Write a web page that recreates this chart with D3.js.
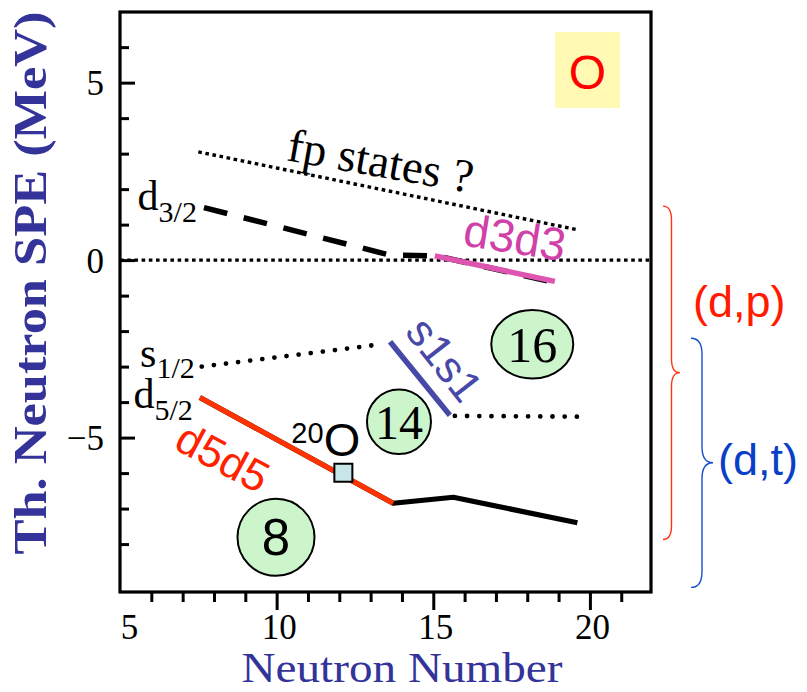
<!DOCTYPE html>
<html>
<head>
<meta charset="utf-8">
<script src="https://cdn.jsdelivr.net/npm/d3@7/dist/d3.min.js"></script>
<style>
  body { margin: 0; background: #fff; }
  svg { display: block; }
</style>
</head>
<body>
<svg id="chart" width="807" height="692"></svg>
<script>
// ---- axis setup ----
const xDomain = [5, 21.95];
const yDomain = [-9.35, 6.99];
const xMinorTicks = [6, 7, 8, 9, 11, 12, 13, 14, 16, 17, 18, 19, 21];
const xMajorTicks = [10, 15, 20];
const xTickLabels = [5, 10, 15, 20];
const yMinorTicks = [-8, -7, -6, -4, -3, -2, -1, 1, 2, 3, 4, 6];
const yMajorTicks = [-5, 0, 5];
const yTickLabels = [-5, 0, 5];

// ---- single-particle levels (neutron number, energy in MeV) ----
const fpN = [7.5, 19.63];
const fpE = [3.05, 0.85];

const d32N = [7.68, 13.62, 15.1, 19.14];
const d32E = [1.48, 0.14, 0.12, -0.68];

const d3d3N = [15.05, 18.88];
const d3d3E = [0.12, -0.6];

const s12N = [7.61, 13.35];
const s12E = [-3.0, -2.37];

const s1s1N = [13.62, 15.53];
const s1s1E = [-2.3, -4.37];

const s12TailN = [15.69, 19.6];
const s12TailE = [-4.39, -4.41];

const d52N = [7.55, 13.72, 15.64, 19.6];
const d52E = [-3.87, -6.85, -6.68, -7.40];

const d5d5N = [7.55, 13.72];
const d5d5E = [-3.87, -6.85];

// 20O point
const o20N = [12.13];
const o20E = [-5.99];

// shell gaps
const magicLabels = ["8", "14", "16"];
const magicN = [9.98, 13.905, 18.16];
const magicE = [-7.81, -4.555, -2.37];

// reaction ranges: top, middle, bottom (MeV)
const dpRange = [1.52, -3.17, -7.87];
const dtRange = [-2.2, -5.71, -9.22];

// ---- drawing ----
const svg = d3.select("#chart");
const plotLeft = 120, plotRight = 651, plotTop = 12, plotBottom = 592;

const x = d3.scaleLinear().domain(xDomain).range([plotLeft, plotRight]);
const y = d3.scaleLinear().domain(yDomain).range([plotBottom, plotTop]);

const serif = "'Liberation Serif', 'Times New Roman', serif";
const sans = "'Liberation Sans', Arial, sans-serif";
const axisBlue = "#333399";

const pts = (ns, es) => ns.map((n, i) => [n, es[i]]);
const line = d3.line().x(d => x(d[0])).y(d => y(d[1]));

// y-axis ticks (pointing into the frame)
function styleAxis(g) {
  g.select(".domain").remove();
  g.selectAll(".tick line").attr("stroke", "#000").attr("stroke-width", 3);
  g.selectAll(".tick text").remove();
}
svg.append("g").attr("transform", `translate(${plotLeft},0)`)
  .call(d3.axisRight(y).tickValues(yMinorTicks).tickSize(9)).call(styleAxis);
svg.append("g").attr("transform", `translate(${plotLeft},0)`)
  .call(d3.axisRight(y).tickValues(yMajorTicks).tickSize(15)).call(styleAxis);

// x-axis ticks (pointing outward)
svg.append("g").attr("transform", `translate(0,${plotBottom})`)
  .call(d3.axisBottom(x).tickValues(xMinorTicks).tickSize(10)).call(styleAxis);
svg.append("g").attr("transform", `translate(0,${plotBottom})`)
  .call(d3.axisBottom(x).tickValues(xMajorTicks).tickSize(18)).call(styleAxis);

// tick labels
const yLab = svg.append("g").attr("transform", `translate(${plotLeft},0)`)
  .call(d3.axisLeft(y).tickValues(yTickLabels).tickSize(0).tickPadding(16)
    .tickFormat(d3.format("d")));
yLab.select(".domain").remove();
yLab.selectAll("text").attr("font-family", serif).attr("font-size", 35)
  .attr("fill", "#000").attr("dy", "0.34em");

const xLab = svg.append("g").attr("transform", `translate(0,${plotBottom})`)
  .call(d3.axisBottom(x).tickValues(xTickLabels).tickSize(0).tickPadding(22)
    .tickFormat(d3.format("d")));
xLab.select(".domain").remove();
xLab.selectAll("text").attr("font-family", serif).attr("font-size", 35)
  .attr("fill", "#000").attr("dy", "0.72em")
  .attr("dx", d => d === xTickLabels[0] ? 9 : 2);

// frame
svg.append("rect").attr("x", plotLeft).attr("y", plotTop)
  .attr("width", plotRight - plotLeft).attr("height", plotBottom - plotTop)
  .attr("fill", "none").attr("stroke", "#000").attr("stroke-width", 3.2);

// axis titles
svg.append("text").attr("x", 402).attr("y", 682)
  .attr("text-anchor", "middle").attr("font-family", serif)
  .attr("font-size", 42).attr("fill", axisBlue)
  .attr("textLength", 321).attr("lengthAdjust", "spacingAndGlyphs")
  .text("Neutron Number");

svg.append("text").attr("transform", "translate(46,283) rotate(-90)")
  .attr("text-anchor", "middle").attr("font-family", serif)
  .attr("font-weight", "bold").attr("font-size", 46).attr("fill", axisBlue)
  .attr("textLength", 543).attr("lengthAdjust", "spacingAndGlyphs")
  .text("Th. Neutron SPE (MeV)");

// zero-energy line
svg.append("path").datum(pts(xDomain, [0, 0])).attr("d", line)
  .attr("fill", "none").attr("stroke", "#000").attr("stroke-width", 3.4)
  .attr("stroke-dasharray", "3.6,3.6");

// fp states
svg.append("path").datum(pts(fpN, fpE)).attr("d", line)
  .attr("fill", "none").attr("stroke", "#000").attr("stroke-width", 3.4)
  .attr("stroke-dasharray", "3.6,3.6");

// d3/2 dashed
svg.append("path").datum(pts(d32N, d32E)).attr("d", line)
  .attr("fill", "none").attr("stroke", "#000").attr("stroke-width", 5.5)
  .attr("stroke-dasharray", "24,17");

// d3d3 segment
svg.append("path").datum(pts(d3d3N, d3d3E)).attr("d", line)
  .attr("fill", "none").attr("stroke", "#dd55b0").attr("stroke-width", 5.5);

// s1/2 round-dotted
const roundDots = sel => sel.attr("fill", "none").attr("stroke", "#000")
  .attr("stroke-width", 4.8).attr("stroke-linecap", "round")
  .attr("stroke-dasharray", "0,12.2");
svg.append("path").datum(pts(s12N, s12E)).attr("d", line).call(roundDots);
svg.append("path").datum(pts(s12TailN, s12TailE)).attr("d", line).call(roundDots);

// s1s1 segment
svg.append("path").datum(pts(s1s1N, s1s1E)).attr("d", line)
  .attr("fill", "none").attr("stroke", "#4848a8").attr("stroke-width", 5.5);

// d5/2 solid + d5d5 overlay
svg.append("path").datum(pts(d52N, d52E)).attr("d", line)
  .attr("fill", "none").attr("stroke", "#000").attr("stroke-width", 5.2)
  .attr("stroke-linejoin", "round");
svg.append("path").datum(pts(d5d5N, d5d5E)).attr("d", line)
  .attr("fill", "none").attr("stroke", "#ff3300").attr("stroke-width", 5.2);

// 20O marker
svg.selectAll("rect.o20").data(pts(o20N, o20E)).join("rect")
  .attr("class", "o20")
  .attr("x", d => x(d[0]) - 9).attr("y", d => y(d[1]) - 9)
  .attr("width", 18).attr("height", 18)
  .attr("fill", "#c6e6ea").attr("stroke", "#000").attr("stroke-width", 2);

const o20Label = svg.append("text").attr("font-family", sans).attr("fill", "#000")
  .attr("x", x(o20N[0]) - 52).attr("y", y(o20E[0]) - 17);
o20Label.append("tspan").attr("font-size", 29).attr("dy", -13).text("20");
o20Label.append("tspan").attr("font-size", 47).attr("dy", 13).text("O");

// shell-gap ellipses
const magicRx = [38.5, 32, 41];
const magicRy = [38.5, 32.3, 34.3];
const magicFont = [sans, serif, serif];
const magicSize = [51, 48, 50];
const mg = svg.selectAll("g.magic").data(magicLabels).join("g").attr("class", "magic")
  .attr("transform", (d, i) => `translate(${x(magicN[i])},${y(magicE[i])})`);
mg.append("ellipse").attr("rx", (d, i) => magicRx[i]).attr("ry", (d, i) => magicRy[i])
  .attr("fill", "#ccf5cc").attr("stroke", "#000").attr("stroke-width", 2);
mg.append("text").attr("text-anchor", "middle").attr("dy", "0.35em")
  .attr("font-family", (d, i) => magicFont[i]).attr("font-size", (d, i) => magicSize[i])
  .attr("fill", "#000").text(d => d);

// orbital labels at the start of each level
function orbital(main, sub, n, e, dy) {
  const t = svg.append("text").attr("font-family", serif).attr("fill", "#000")
    .attr("text-anchor", "end")
    .attr("x", x(n) - 7).attr("y", y(e) + dy);
  t.append("tspan").attr("font-size", 42).text(main);
  t.append("tspan").attr("font-size", 30).attr("dy", 11.5).text(sub);
}
orbital("d", "3/2", d32N[0], d32E[0], 2.5);
orbital("s", "1/2", s12N[0], s12E[0], 0);
orbital("d", "5/2", d52N[0], d52E[0], 11);

// rotated level-pair labels
function rotLabel(txt, cx, cy, angle, size, color, family) {
  svg.append("text").attr("transform", `translate(${cx},${cy}) rotate(${angle})`)
    .attr("text-anchor", "middle").attr("dy", "0.36em")
    .attr("font-family", family).attr("font-size", size).attr("fill", color)
    .text(txt);
}
rotLabel("fp states ?", 381, 160, 10, 47, "#000", serif);
rotLabel("d3d3", 515, 237, 9, 46, "#d040a8", sans);
rotLabel("s1s1", 445, 359, 52, 44, "#4848a8", sans);
rotLabel("d5d5", 223, 457, 28, 44, "#ff2200", sans);

// element tag
svg.append("rect").attr("x", 555).attr("y", 32).attr("width", 65).attr("height", 76)
  .attr("fill", "#fff9b3");
svg.append("text").attr("x", 587.5).attr("y", 89).attr("text-anchor", "middle")
  .attr("font-family", sans).attr("font-size", 48).attr("fill", "#ff0000").text("O");

// reaction braces
function brace(range, x0, w, color, r) {
  const [t, m, b] = range.map(y);
  const xv = x0 + w, xp = x0 + 2 * w;
  const p = `M${x0},${t} Q${xv},${t} ${xv},${t + r} L${xv},${m - r} Q${xv},${m} ${xp},${m}`
    + ` Q${xv},${m} ${xv},${m + r} L${xv},${b - r} Q${xv},${b} ${x0},${b}`;
  svg.append("path").attr("d", p).attr("fill", "none")
    .attr("stroke", color).attr("stroke-width", 1.4);
}
brace(dpRange, 663, 8.5, "#ff3311", 14);
brace(dtRange, 691, 11, "#1a4fd0", 16);

svg.append("text").attr("x", 693).attr("y", 317).attr("font-family", sans)
  .attr("font-size", 45).attr("fill", "#ff1a00").text("(d,p)");
svg.append("text").attr("x", 718).attr("y", 475).attr("font-family", sans)
  .attr("font-size", 45).attr("fill", "#0a3fc8").text("(d,t)");
</script>
</body>
</html>
